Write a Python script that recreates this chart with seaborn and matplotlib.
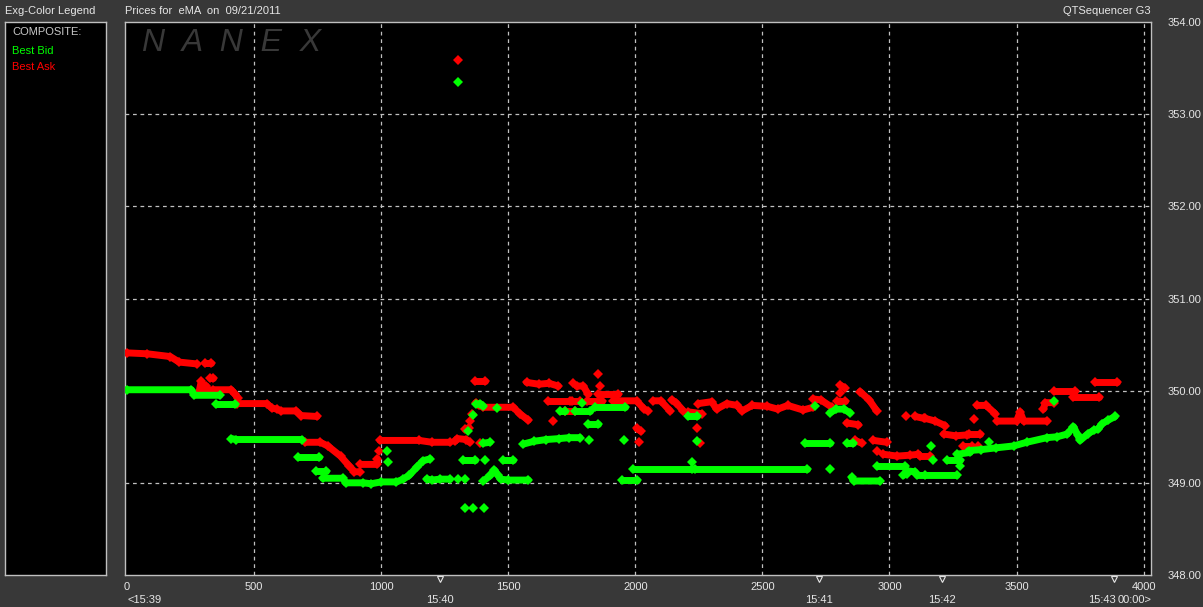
import numpy as np
import pandas as pd
import matplotlib
matplotlib.use('Agg')
import matplotlib.pyplot as plt
import matplotlib.transforms as mtransforms
import seaborn as sns

nan = np.nan

# Best Ask quotes, one run of prints per line, runs split by nan
ask_x = [0, 80, 170, 205, 275, nan,
         305, 332, nan,
         325, 340, nan,
         283, 292, 300, 312, 322, nan,
         338, 410, 425, 437, nan,
         432, 550, 570, 590, 605, 665, 685, 748, nan,
         702, 760, 790, 840, 875, 895, 915, nan,
         918, 983, 985, nan,
         990, nan,
         995, 1150, 1200, 1271, nan,
         1290, 1300, 1335, 1348, nan,
         1330, 1345, nan,
         1349, nan,
         1356, nan,
         1372, 1385, 1402, 1520, 1545, 1579, nan,
         1389, nan,
         1370, 1410, nan,
         1572, 1620, 1660, 1697, nan,
         1753, nan,
         1854, nan,
         1769, 1795, 1815, nan,
         1861, nan,
         1854, 1933, nan,
         1658, 1743, nan,
         1749, 1782, nan,
         1808, 1867, nan,
         1913, 2005, 2035, 2050, nan,
         1723, 1763, nan,
         1677, nan,
         2005, 2022, nan,
         2015, nan,
         2071, 2100, 2137, nan,
         2143, 2160, 2189, nan,
         2209, 2261, nan,
         2248, 2300, 2320, 2360, 2400, 2420, 2460, 2520, 2560, 2600, 2660, 2700, nan,
         2700, 2730, 2773, nan,
         2792, 2825, nan,
         2806, 2825, nan,
         2806, nan,
         2884, 2920, 2950, nan,
         2832, 2878, nan,
         2241, nan,
         2255, nan,
         2865, 2891, nan,
         2937, 2989, nan,
         2950, nan,
         2976, 3030, 3081, 3114, nan,
         3121, 3160, nan,
         3064, nan,
         3101, 3134, nan,
         3140, 3180, 3219, nan,
         3213, 3260, 3305, nan,
         3311, 3357, nan,
         3331, nan,
         3291, 3324, nan,
         3350, nan,
         3344, 3380, 3416, nan,
         3423, 3500, 3514, 3528, 3620, nan,
         3606, 3613, 3646, nan,
         3646, 3731, nan,
         3724, 3823, nan,
         3810, 3895, nan,
         1302]
ask_y = [350.41, 350.40, 350.37, 350.31, 350.29, nan,
         350.30, 350.30, nan,
         350.14, 350.14, nan,
         349.98, 350.10, 350.02, 350.05, 350.00, nan,
         350.01, 350.01, 349.96, 349.92, nan,
         349.86, 349.86, 349.81, 349.80, 349.78, 349.78, 349.73, 349.72, nan,
         349.44, 349.44, 349.40, 349.29, 349.18, 349.12, 349.12, nan,
         349.20, 349.20, 349.26, nan,
         349.35, nan,
         349.46, 349.46, 349.44, 349.44, nan,
         349.45, 349.48, 349.47, 349.44, nan,
         349.58, 349.60, nan,
         349.67, nan,
         349.75, nan,
         349.87, 349.84, 349.82, 349.82, 349.75, 349.68, nan,
         349.43, nan,
         350.10, 350.10, nan,
         350.09, 350.07, 350.08, 350.05, nan,
         350.08, nan,
         350.18, nan,
         350.05, 350.05, 349.96, nan,
         350.05, nan,
         349.96, 349.96, nan,
         349.89, 349.89, nan,
         349.89, 349.89, nan,
         349.89, 349.89, nan,
         349.89, 349.89, 349.80, 349.78, nan,
         349.78, 349.78, nan,
         349.67, nan,
         349.59, 349.56, nan,
         349.44, nan,
         349.89, 349.89, 349.78, nan,
         349.90, 349.87, 349.78, nan,
         349.77, 349.75, nan,
         349.86, 349.88, 349.80, 349.86, 349.84, 349.78, 349.84, 349.83, 349.80, 349.84, 349.79, 349.82, nan,
         349.91, 349.90, 349.82, nan,
         349.89, 349.89, nan,
         350.06, 350.03, nan,
         349.98, nan,
         349.99, 349.90, 349.78, nan,
         349.65, 349.63, nan,
         349.59, nan,
         349.43, nan,
         349.46, 349.43, nan,
         349.46, 349.44, nan,
         349.35, nan,
         349.31, 349.29, 349.30, 349.31, nan,
         349.29, 349.29, nan,
         349.73, nan,
         349.72, 349.70, nan,
         349.70, 349.67, 349.62, nan,
         349.53, 349.51, 349.52, nan,
         349.53, 349.53, nan,
         349.69, nan,
         349.40, 349.40, nan,
         349.40, nan,
         349.84, 349.84, 349.75, nan,
         349.67, 349.67, 349.77, 349.67, 349.67, nan,
         349.80, 349.87, 349.87, nan,
         350.00, 350.00, nan,
         349.93, 349.93, nan,
         350.09, 350.09, nan,
         353.59]

# Best Bid quotes
bid_x = [0, 253, 265, 365, nan,
         352, 424, nan,
         411, 430, 687, nan,
         672, 755, nan,
         743, 782, nan,
         770, 850, 860, 930, 960, 1000, 1060, 1087, 1110, 1140, 1165, 1192, nan,
         1021, nan,
         1025, nan,
         1179, 1200, 1230, 1271, nan,
         1303, nan,
         1330, nan,
         1323, 1369, nan,
         1408, nan,
         1480, 1520, nan,
         1330, nan,
         1360, nan,
         1404, nan,
         1343, nan,
         1362, nan,
         1375, 1389, 1402, nan,
         1402, 1428, nan,
         1457, nan,
         1402, 1430, 1445, 1460, 1470, 1500, 1579, nan,
         1559, 1600, 1650, 1700, 1740, 1782, nan,
         1815, 1854, nan,
         1819, nan,
         1703, 1723, nan,
         1763, 1822, nan,
         1789, nan,
         1841, 1959, nan,
         1957, nan,
         1946, 2005, nan,
         1992, 2222, nan,
         2235, 2675, nan,
         2209, 2241, nan,
         2241, nan,
         2222, nan,
         2668, 2766, nan,
         2766, nan,
         2707, nan,
         2766, 2790, 2820, 2845, nan,
         2832, 2858, nan,
         2851, 2860, 2963, nan,
         2950, 3062, nan,
         3068, nan,
         3055, 3070, 3100, 3110, 3140, 3265, nan,
         3164, nan,
         3173, nan,
         3226, 3278, nan,
         3278, nan,
         3265, 3318, nan,
         3390, nan,
         3311, 3360, 3420, 3488, 3540, 3619, 3660, 3700, 3724, 3740, 3750, 3780, 3803, 3820, 3836, 3860, 3888, nan,
         3646, nan,
         1302]
bid_y = [350.01, 350.01, 349.95, 349.95, nan,
         349.86, 349.86, nan,
         349.48, 349.47, 349.47, nan,
         349.28, 349.28, nan,
         349.13, 349.13, nan,
         349.05, 349.05, 349.00, 349.00, 348.99, 349.01, 349.01, 349.04, 349.08, 349.17, 349.24, 349.26, nan,
         349.34, nan,
         349.23, nan,
         349.04, 349.03, 349.04, 349.04, nan,
         349.04, nan,
         349.04, nan,
         349.25, 349.25, nan,
         349.25, nan,
         349.25, 349.25, nan,
         348.73, nan,
         348.73, nan,
         348.73, nan,
         349.56, nan,
         349.74, nan,
         349.85, 349.86, 349.83, nan,
         349.43, 349.44, nan,
         349.81, nan,
         349.02, 349.08, 349.14, 349.08, 349.04, 349.03, 349.03, nan,
         349.42, 349.45, 349.47, 349.48, 349.49, 349.49, nan,
         349.64, 349.64, nan,
         349.47, nan,
         349.78, 349.78, nan,
         349.78, 349.78, nan,
         349.87, nan,
         349.82, 349.82, nan,
         349.47, nan,
         349.03, 349.03, nan,
         349.15, 349.15, nan,
         349.15, 349.15, nan,
         349.72, 349.72, nan,
         349.45, nan,
         349.23, nan,
         349.43, 349.43, nan,
         349.15, nan,
         349.83, nan,
         349.76, 349.80, 349.80, 349.76, nan,
         349.43, 349.43, nan,
         349.06, 349.02, 349.02, nan,
         349.18, 349.18, nan,
         349.10, nan,
         349.08, 349.13, 349.12, 349.08, 349.08, 349.08, nan,
         349.40, nan,
         349.25, nan,
         349.25, 349.25, nan,
         349.18, nan,
         349.31, 349.33, nan,
         349.44, nan,
         349.35, 349.36, 349.38, 349.40, 349.44, 349.49, 349.50, 349.53, 349.61, 349.52, 349.46, 349.53, 349.57, 349.58, 349.64, 349.68, 349.72, nan,
         349.89, nan,
         353.35]

x_ticks = [0, 500, 1000, 1500, 2000, 2500, 3000, 3500, 4000]
y_ticks = [348, 349, 350, 351, 352, 353, 354]
minute_x = [1231, 2723, 3207, 3885]
minute_labels = ['15:40', '15:41', '15:42', '15:43']

BG = '#383838'
TXT = '#e6e6e6'
EDGE = '#c0c0c0'
SMALL = dict(family=['Liberation Sans', 'DejaVu Sans'], fontsize=8)

sns.set_style('dark')
plt.rcParams['font.family'] = ['Liberation Sans', 'DejaVu Sans']


def runs_frame(xs, ys):
    df = pd.DataFrame({'x': xs, 'y': ys})
    df['run'] = df['x'].isna().cumsum()
    return df.dropna()


fig = plt.figure(figsize=(12.03, 6.07), dpi=100, facecolor=BG)
W, H = 1203, 607
ax = fig.add_axes([125 / W, 1 - 575 / H, (1151 - 125) / W, (575 - 22) / H])
ax.set_facecolor('black')

for gx in x_ticks[1:]:
    ax.axvline(gx, color=EDGE, lw=0.9, ls=(0, (3, 3)), zorder=1)
for gy in y_ticks[1:-1]:
    ax.axhline(gy, color=EDGE, lw=0.9, ls=(0, (3, 3)), zorder=1)

ax.text(0.017, 0.962, 'N  A  N  E  X', transform=ax.transAxes, color='#383838',
        fontsize=23, fontstyle='italic', va='center', ha='left', zorder=0)

sns.lineplot(data=runs_frame(ask_x, ask_y), x='x', y='y', units='run', estimator=None,
             sort=False, color='#ff0000', lw=5, marker='D', markersize=5, mew=0,
             solid_capstyle='round', legend=False, ax=ax, zorder=3)
sns.lineplot(data=runs_frame(bid_x, bid_y), x='x', y='y', units='run', estimator=None,
             sort=False, color='#00ff00', lw=5, marker='D', markersize=5, mew=0,
             solid_capstyle='round', legend=False, ax=ax, zorder=4)

ax.set_xlim(-8, 4029)
ax.set_ylim(348, 354)
ax.set_xlabel('')
ax.set_ylabel('')
ax.set_xticks(x_ticks)
ax.set_xticklabels([str(t) for t in x_ticks], **SMALL)
ax.set_yticks(y_ticks)
ax.set_yticklabels(['%.2f' % t for t in y_ticks])
ax.yaxis.tick_right()
ax.tick_params(axis='x', length=0, colors=TXT, pad=5)
ax.tick_params(axis='y', length=0, colors=TXT, labelsize=8, pad=12)
ax.grid(False)
for s in ax.spines.values():
    s.set_color(EDGE)
    s.set_linewidth(1)

# minute markers under the axis
trans = mtransforms.blended_transform_factory(ax.transData, ax.transAxes)
ax.plot(minute_x, [-0.008] * len(minute_x), ls='none', marker='v', ms=5,
        mfc='none', mec=TXT, mew=0.8, transform=trans, clip_on=False)
for mx, ml in zip(minute_x[:-1], minute_labels[:-1]):
    ax.text(mx, -0.045, ml, transform=trans, ha='center', va='center', color=TXT, **SMALL)
# last minute label sits right against the end-time label, as in the source
ax.text(minute_x[-1] + 5, -0.045, minute_labels[-1], transform=trans, ha='right', va='center',
        color=TXT, **SMALL)
ax.text(0, -0.045, '<15:39', transform=trans, ha='left', va='center', color=TXT, **SMALL)
ax.text(1.0, -0.045, '00:00>', transform=ax.transAxes, ha='right', va='center', color=TXT, **SMALL)

# legend panel
lax = fig.add_axes([5 / W, 1 - 575 / H, 101 / W, (575 - 22) / H])
lax.set_facecolor('black')
lax.set_xticks([])
lax.set_yticks([])
for s in lax.spines.values():
    s.set_color(EDGE)
    s.set_linewidth(1)
lax.text(0.07, 0.982, 'COMPOSITE:', color='#c8c8c8', fontsize=8, va='center', transform=lax.transAxes)
lax.text(0.07, 0.948, 'Best Bid', color='#00ff00', fontsize=8, va='center', transform=lax.transAxes)
lax.text(0.07, 0.919, 'Best Ask', color='#ff0000', fontsize=8, va='center', transform=lax.transAxes)

fig.text(5 / W, 1 - 11 / H, 'Exg-Color Legend', color=TXT, fontsize=8, va='center')
fig.text(125 / W, 1 - 11 / H, 'Prices for  eMA  on  09/21/2011', color=TXT, fontsize=8, va='center')
fig.text(1151 / W, 1 - 11 / H, 'QTSequencer G3', color=TXT, fontsize=8, va='center', ha='right')

fig.savefig('out.png', dpi=100, facecolor=BG)
